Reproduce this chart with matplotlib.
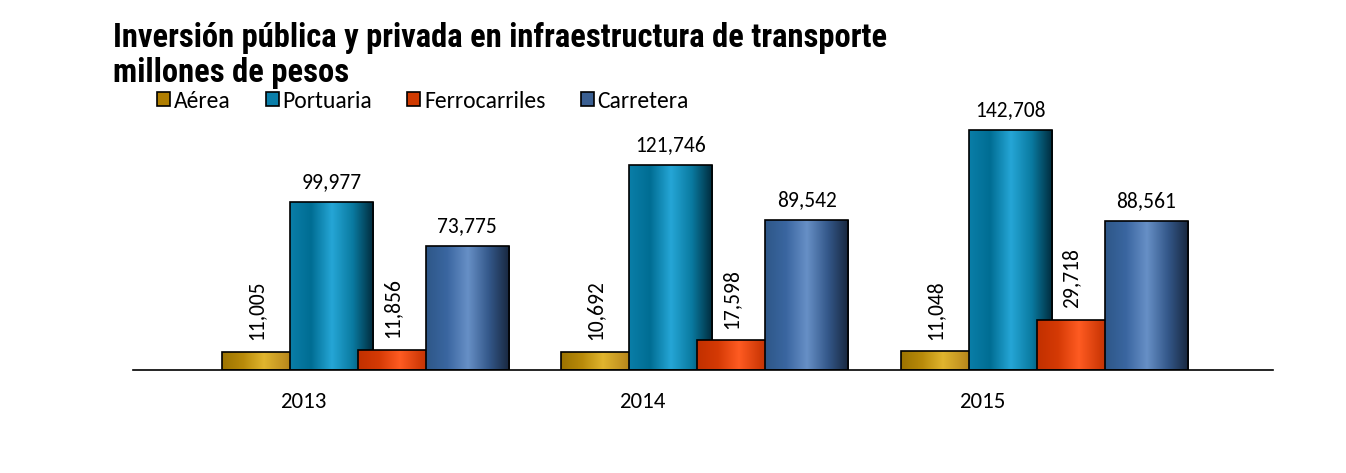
import numpy as np
import matplotlib.pyplot as plt
from matplotlib.colors import LinearSegmentedColormap
from matplotlib.patches import Patch

plt.rcParams.update({
    'figure.facecolor': 'white',
    'axes.facecolor': 'white',
    'font.family': ['Carlito', 'Lato', 'DejaVu Sans'],
})

years = ['2013', '2014', '2015']
series = ['Aérea', 'Portuaria', 'Ferrocarriles', 'Carretera']
aerea = [11005, 10692, 11048]
portuaria = [99977, 121746, 142708]
ferrocarriles = [11856, 17598, 29718]
carretera = [73775, 89542, 88561]
values = [aerea, portuaria, ferrocarriles, carretera]

# gradient stops (left edge -> highlight -> right edge)
GRADS = [
    ['#9c7300', '#b88a0a', '#e0b52e', '#c09020', '#8c6500'],
    ['#0a7ea8', '#006d93', '#25a6d6', '#0a7aa0', '#00293a'],
    ['#c23000', '#d53a05', '#ff5b22', '#d03a08', '#a52800'],
    ['#2e5788', '#3a66a0', '#6790c6', '#34588a', '#17263d'],
]
SOLID = ['#b07e00', '#0a7faa', '#d03a00', '#3a5f92']

fig = plt.figure(figsize=(13.46, 4.73), dpi=100)
ax = fig.add_axes([133 / 1346, 1 - 370 / 473, 1140 / 1346, 260 / 473])

x = np.arange(len(years))
width = 0.2445
step = 0.2003
first = -0.1163
ymax = 154700

grad = np.linspace(0, 1, 256).reshape(1, -1)
for k, (name, vals) in enumerate(zip(series, values)):
    cmap = LinearSegmentedColormap.from_list(name, GRADS[k])
    centers = x + first + k * step
    bars = ax.bar(centers, vals, width, facecolor='none', edgecolor='black',
                  linewidth=1.2, zorder=3 + k * 2 + 1)
    for b in bars:
        x0, y0 = b.get_x(), b.get_y()
        im = ax.imshow(grad, cmap=cmap, aspect='auto',
                       extent=[x0, x0 + b.get_width(), y0, y0 + b.get_height()],
                       zorder=3 + k * 2)
        im.set_clip_path(b)
    for c, v in zip(centers, vals):
        if k in (0, 2):
            # narrow visible part, rotated label
            xc = c - width / 2 + step / 2
            ax.annotate(f'{v:,}', (xc, v), xytext=(0, 8.5), textcoords='offset points',
                        rotation=90, ha='center', va='bottom', fontsize=15.5,
                        color='black')
        else:
            ax.annotate(f'{v:,}', (c, v), xytext=(0, 10), textcoords='offset points',
                        ha='center', va='baseline', fontsize=15.5, color='black')

ax.set_xlim(-0.5, 2.857)
ax.set_ylim(0, ymax)
ax.set_xticks(x)
ax.set_xticklabels(years, fontsize=16.5)
ax.tick_params(axis='x', length=0, pad=16)
ax.set_yticks([])
for s in ['left', 'right', 'top']:
    ax.spines[s].set_visible(False)
ax.spines['bottom'].set_linewidth(1.2)
ax.spines['bottom'].set_zorder(20)

title_font = ['Roboto Condensed', 'Liberation Sans', 'DejaVu Sans']
fig.text(113 / 1346, 1 - 47 / 473, 'Inversión pública y privada en infraestructura de transporte',
         fontsize=23.5, fontweight='bold', family=title_font, va='baseline', ha='left')
fig.text(113 / 1346, 1 - 82 / 473, 'millones de pesos',
         fontsize=23.5, fontweight='bold', family=title_font, va='baseline', ha='left')

handles = [Patch(facecolor=SOLID[i], edgecolor='black', linewidth=1.2, label=series[i])
           for i in range(4)]
fig.legend(handles=handles, loc='center left', bbox_to_anchor=(157 / 1346, 1 - 101 / 473),
           ncol=4, frameon=False, fontsize=17, handlelength=0.55, handleheight=0.55,
           handletextpad=0.15, columnspacing=1.5, borderaxespad=0, borderpad=0)

fig.savefig('out.png', dpi=100)
